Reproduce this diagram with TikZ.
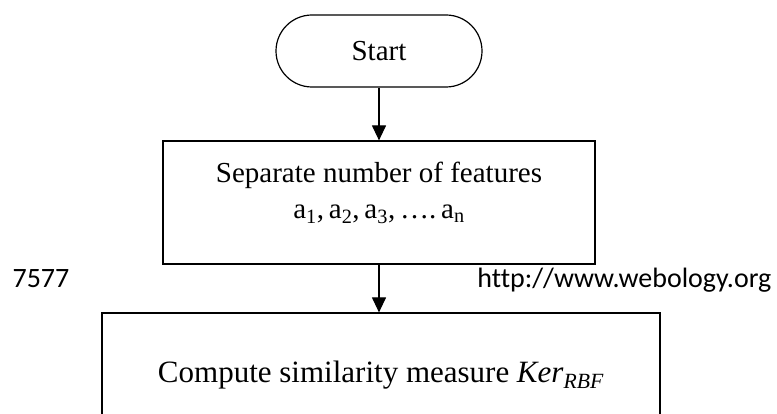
\documentclass[tikz,border=0pt]{standalone}
\usepackage{fontspec}
\setmainfont{Liberation Serif}
\newfontfamily\webfont[Ligatures=NoCommon]{Carlito}
\usetikzlibrary{arrows.meta}
\newcommand{\sub}[1]{a\textsubscript{#1}}
\begin{document}
\begin{tikzpicture}[x=1pt,y=-1pt,line width=1.2pt,
  term/.style={draw,rounded corners=36pt,minimum width=206pt,minimum height=72pt,inner sep=0pt,font=\fontsize{29}{36}\selectfont},
  proc/.style={draw,inner sep=0pt},
  txt/.style={align=center,inner sep=0pt,font=\fontsize{29}{36}\selectfont},
  pie/.style={inner sep=0pt,font=\webfont\fontsize{28}{34}\selectfont},
  flecha/.style={-{Triangle[length=15pt,width=14pt]}}]
\def\cx{379};%eje central
\clip (0,0) rectangle (777,414);

%Inicio
\node[term] (start) at (\cx,51) {Start};

%Caracteristicas
\node[proc,minimum width=432pt,minimum height=123pt] (feat) at (\cx,202.5) {};
\node[txt] (featTxt) at (\cx,193) {Separate number of features\\
  \sub{1},\,\sub{2},\,\sub{3},\,\ldots.\,\sub{n}};

%Similitud
\node[proc,minimum width=558pt,minimum height=124pt,font=\fontsize{31}{36}\selectfont] (sim) at (381,375)
  {Compute similarity measure \textit{Ker}\textsubscript{\textit{RBF}}};

%Pie de pagina
\node[pie,anchor=base west] (pag) at (12,288) {7577};
\node[pie,anchor=base east] (web) at (772,288) {http://www.webology.org};

%Flechas
\draw[flecha] (start) -- (feat);
\draw[flecha] (feat) -- (feat.south |- sim.north);
\end{tikzpicture}
\end{document}
